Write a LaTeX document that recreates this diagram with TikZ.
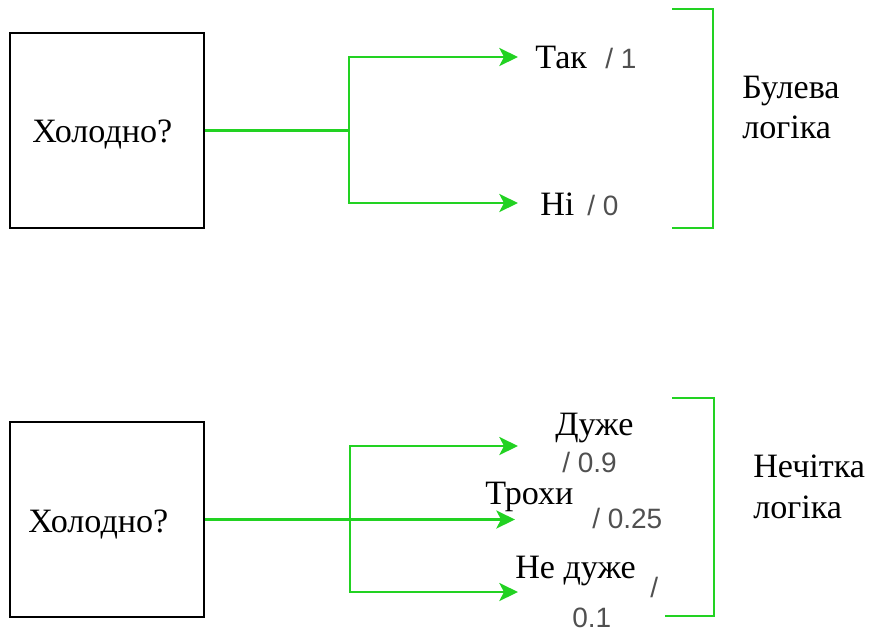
\documentclass[tikz,border=0pt]{standalone}
\usepackage{fontspec}
\setmainfont{Liberation Serif}
\newfontfamily\numfont{Liberation Sans}
\usetikzlibrary{arrows.meta}
\definecolor{linkgreen}{RGB}{34,210,34}
\definecolor{valgray}{RGB}{80,80,80}
\begin{document}
\begin{tikzpicture}[x=0.75pt,y=-0.75pt,
  qbox/.style={draw=black,line width=2pt,minimum width=145.5pt,minimum height=146.25pt,inner sep=0pt},
  word/.style={font=\fontsize{25.6}{30}\selectfont,inner sep=0pt,anchor=base west},
  val/.style={font=\numfont\fontsize{21}{25}\selectfont,text=valgray,inner sep=0pt,anchor=base west},
  link/.style={draw=linkgreen,line width=1.9pt},
  arr/.style={link,-{Stealth[length=14pt,width=13.5pt,inset=3.5pt]}},
  bracket/.style={draw=linkgreen,line width=1.9pt}]

\useasboundingbox (0,0) rectangle (873,633);

% ---- Boolean logic ----
\node[qbox] (q1) at (107,130.5) {};
\node[word] (q1t) at (32,142) {Холодно?};
\coordinate (s1) at (349,130.5);
\coordinate (s1a) at (349,57);
\coordinate (s1b) at (349,203);
\coordinate (t1a) at (518,57);
\coordinate (t1b) at (518,203);
\draw[link] (q1.east) -- (s1);
\draw[link,line cap=rect] (s1a) -- (s1b);
\draw[arr] (s1a) -- (t1a);
\draw[arr] (s1b) -- (t1b);

\node[word] (yes) at (535,68) {Так};
\node[val] (yesv) at (605,68) {/ 1};
\node[word] (no) at (540,215) {Ні};
\node[val] (nov) at (587,215) {/ 0};

\coordinate (b1a) at (672,9);
\coordinate (b1b) at (713,9);
\coordinate (b1c) at (713,228);
\coordinate (b1d) at (672,228);
\draw[bracket] (b1a) -- (b1b) -- (b1c) -- (b1d);
\node[word] (bool1) at (742,98) {Булева};
\node[word] (bool2) at (742,138) {логіка};

% ---- Fuzzy logic ----
\node[qbox] (q2) at (107,519.5) {};
\node[word] (q2t) at (28,532) {Холодно?};
\coordinate (s2a) at (350,446);
\coordinate (s2b) at (350,592);
\coordinate (t2a) at (518,446);
\coordinate (t2m) at (515,519.5);
\coordinate (t2b) at (518,592);
\draw[link,line cap=rect] (s2a) -- (s2b);
\draw[arr] (q2.east) -- (t2m);
\draw[arr] (s2a) -- (t2a);
\draw[arr] (s2b) -- (t2b);

\node[word] (very) at (555,435) {Дуже};
\node[val] (veryv) at (562,472) {/ 0.9};
\node[word] (bit) at (485,504) {Трохи};
\node[val] (bitv) at (592,528) {/ 0.25};
\node[word] (notvery) at (515,578) {Не дуже};
\node[val] (notveryv1) at (650,597) {/};
\node[val] (notveryv2) at (572,627) {0.1};

\coordinate (b2a) at (672,398);
\coordinate (b2b) at (714,398);
\coordinate (b2c) at (714,616);
\coordinate (b2d) at (665,616);
\draw[bracket] (b2a) -- (b2b) -- (b2c) -- (b2d);
\node[word] (fuzzy1) at (753,477) {Нечітка};
\node[word] (fuzzy2) at (753,518) {логіка};
\end{tikzpicture}
\end{document}
